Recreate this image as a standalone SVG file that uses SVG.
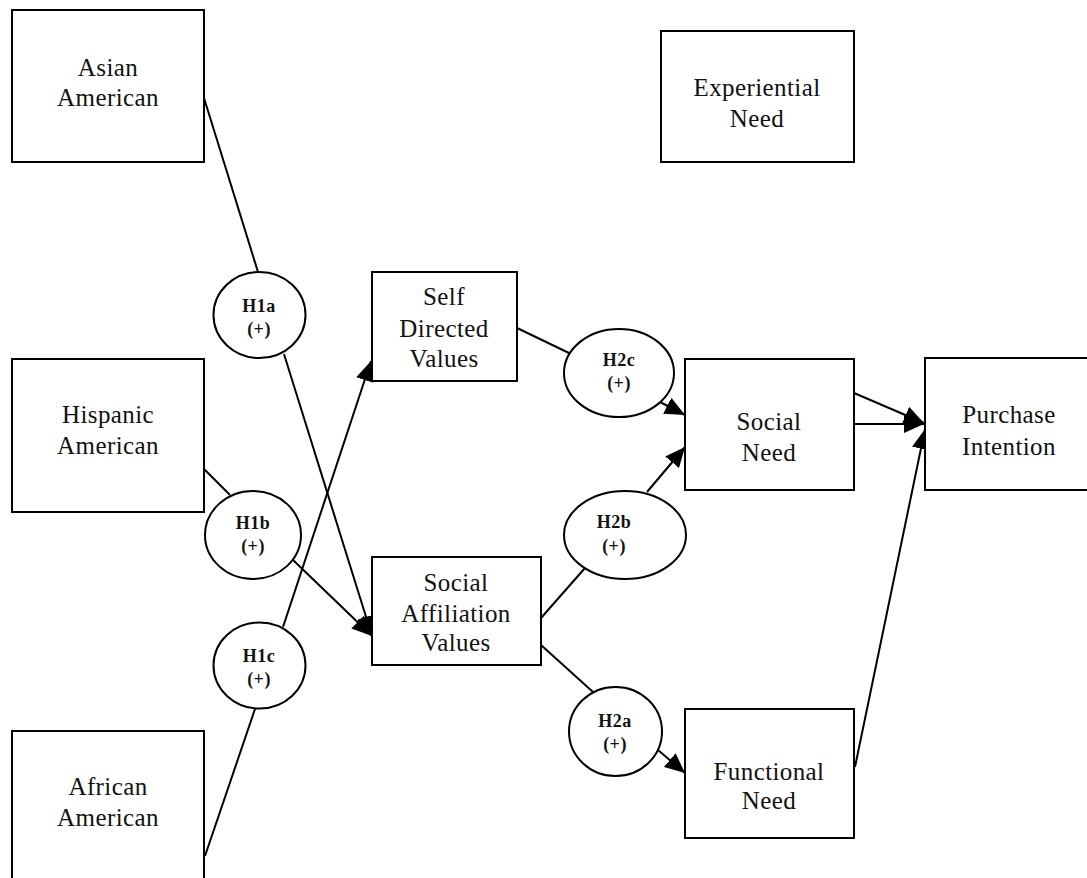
<svg xmlns="http://www.w3.org/2000/svg" width="1087" height="878" viewBox="0 0 1087 878">
<style>
.box{fill:#fff;stroke:#000;stroke-width:2}
.ell{fill:#fff;stroke:#000;stroke-width:2}
.t{font-family:"Liberation Serif","Times New Roman",serif;font-size:25px;letter-spacing:0.4px;text-anchor:middle;fill:#111}
.h{font-family:"Liberation Serif","Times New Roman",serif;font-size:18px;letter-spacing:0.5px;font-weight:bold;text-anchor:middle;fill:#111}
.c line{stroke:#000;stroke-width:2}
</style>
<defs>
<marker id="arr" viewBox="0 0 20 18" refX="20" refY="9" markerWidth="20" markerHeight="18" markerUnits="userSpaceOnUse" orient="auto">
<path d="M0,0 L20,9 L0,18 z" fill="#000"/>
</marker>
</defs>
<rect width="1087" height="878" fill="#fff"/>
<g class="c" id="connectors">
<line x1="204" y1="98" x2="258" y2="272"/>
<line x1="284" y1="354" x2="372" y2="636" marker-end="url(#arr)"/>
<line x1="204" y1="469" x2="230" y2="495"/>
<line x1="293" y1="560" x2="372" y2="636" marker-end="url(#arr)"/>
<line x1="205" y1="856" x2="255" y2="709"/>
<line x1="283" y1="627" x2="371" y2="361" marker-end="url(#arr)"/>
<line x1="517" y1="328" x2="569" y2="353"/>
<line x1="660" y1="402" x2="685" y2="415" marker-end="url(#arr)"/>
<line x1="541" y1="618" x2="585" y2="568"/>
<line x1="647" y1="492" x2="685" y2="447" marker-end="url(#arr)"/>
<line x1="541" y1="645" x2="593" y2="692"/>
<line x1="658" y1="750" x2="685" y2="773" marker-end="url(#arr)"/>
<line x1="854" y1="393" x2="924" y2="423" marker-end="url(#arr)"/>
<line x1="854" y1="424" x2="924" y2="424" marker-end="url(#arr)"/>
<line x1="855" y1="767" x2="925" y2="429" marker-end="url(#arr)"/>
</g>
<g id="asian"><rect class="box" x="12" y="10" width="192" height="152"/><text class="t" x="108" y="76">Asian</text><text class="t" x="108" y="106">American</text></g>
<g id="hispanic"><rect class="box" x="12" y="359" width="192" height="153"/><text class="t" x="108" y="423">Hispanic</text><text class="t" x="108" y="454">American</text></g>
<g id="african"><rect class="box" x="12" y="731" width="192" height="160"/><text class="t" x="108" y="795">African</text><text class="t" x="108" y="826">American</text></g>
<g id="experiential"><rect class="box" x="661" y="31" width="193" height="131"/><text class="t" x="757" y="96">Experiential</text><text class="t" x="757" y="127">Need</text></g>
<g id="selfdirected"><rect class="box" x="372" y="272" width="145" height="109"/><text class="t" x="444" y="305">Self</text><text class="t" x="444" y="337">Directed</text><text class="t" x="444" y="367">Values</text></g>
<g id="socialaff"><rect class="box" x="372" y="557" width="169" height="108"/><text class="t" x="456" y="591">Social</text><text class="t" x="456" y="622">Affiliation</text><text class="t" x="456" y="651">Values</text></g>
<g id="socialneed"><rect class="box" x="685" y="359" width="169" height="131"/><text class="t" x="769" y="430">Social</text><text class="t" x="769" y="461">Need</text></g>
<g id="purchase"><rect class="box" x="925" y="358" width="170" height="132"/><text class="t" x="1009" y="423">Purchase</text><text class="t" x="1009" y="455">Intention</text></g>
<g id="functional"><rect class="box" x="685" y="709" width="169" height="129"/><text class="t" x="769" y="780">Functional</text><text class="t" x="769" y="809">Need</text></g>
<g id="h1a"><ellipse class="ell" cx="259.5" cy="315" rx="46" ry="43"/><text class="h" x="259" y="312">H1a</text><text class="h" x="259" y="335">(+)</text></g>
<g id="h1b"><ellipse class="ell" cx="253" cy="535" rx="48" ry="44"/><text class="h" x="253" y="529">H1b</text><text class="h" x="253" y="552">(+)</text></g>
<g id="h1c"><ellipse class="ell" cx="259.5" cy="665.5" rx="46" ry="43"/><text class="h" x="259" y="662">H1c</text><text class="h" x="259" y="685">(+)</text></g>
<g id="h2c"><ellipse class="ell" cx="619" cy="373" rx="55" ry="44"/><text class="h" x="619" y="366">H2c</text><text class="h" x="619" y="389">(+)</text></g>
<g id="h2b"><ellipse class="ell" cx="625" cy="535" rx="61" ry="44"/><text class="h" x="614" y="528">H2b</text><text class="h" x="614" y="552">(+)</text></g>
<g id="h2a"><ellipse class="ell" cx="615.5" cy="731.5" rx="46.5" ry="44.5"/><text class="h" x="615" y="727">H2a</text><text class="h" x="615" y="750">(+)</text></g>
</svg>
